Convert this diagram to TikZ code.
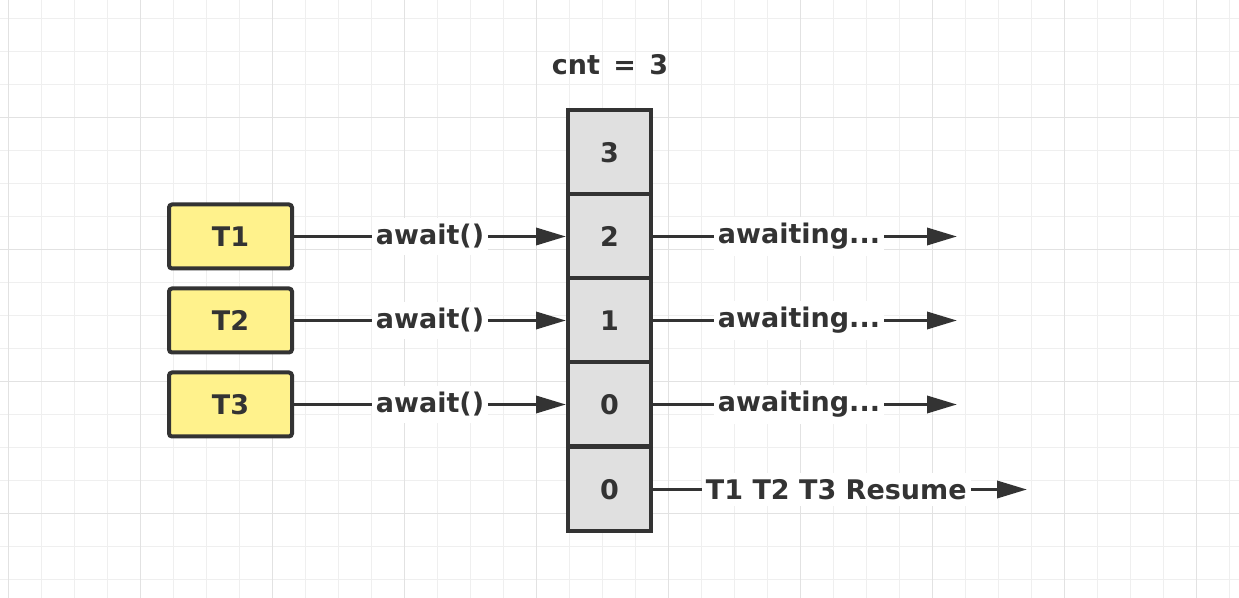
\documentclass[tikz,border=0pt]{standalone}
\usepackage{fontspec}
\setmainfont{DejaVu Sans}
\usetikzlibrary{arrows.meta}
\definecolor{ink}{HTML}{333333}
\definecolor{tyellow}{HTML}{FFF28C}
\definecolor{cellgray}{HTML}{E0E0E0}
\definecolor{gridminor}{HTML}{EFEFEF}
\definecolor{gridmajor}{HTML}{E2E2E2}
\begin{document}
\begin{tikzpicture}[x=0.5pt,y=-0.5pt,
  every node/.style={font=\fontsize{13.5}{16}\selectfont\bfseries,text=ink},
  tbox/.style={draw=ink,line width=2pt,fill=tyellow,rounded corners=1.5pt,minimum width=61.5pt,minimum height=32pt},
  cell/.style={draw=ink,line width=2pt,fill=cellgray,minimum width=41.5pt,minimum height=42pt},
  lbl/.style={fill=white,inner xsep=2pt,inner ysep=3pt},
  arr/.style={draw=ink,line width=1.75pt,-{Triangle[length=15pt,width=8.5pt]}}]
\useasboundingbox (0,0) rectangle (1239,598);
\fill[white] (0,0) rectangle (1239,598);
\foreach \x in {8,41,...,1229} \draw[gridminor,line width=0.5pt] (\x,0) -- (\x,598);
\foreach \y in {19,52,...,580} \draw[gridminor,line width=0.5pt] (0,\y) -- (1239,\y);
\foreach \x in {8,140,...,1196} \draw[gridmajor,line width=0.5pt] (\x,0) -- (\x,598);
\foreach \y in {118,250,...,514} \draw[gridmajor,line width=0.5pt] (0,\y) -- (1239,\y);

\node (cnt) at (610,65) {cnt\hspace{2pt} = \hspace{2pt}3};

\node[tbox] (t1) at (230.5,236.5) {T1};
\node[tbox] (t2) at (230.5,320.5) {T2};
\node[tbox] (t3) at (230.5,404.5) {T3};

\node[cell] (c3) at (609.5,152.5) {3};
\node[cell] (c2) at (609.5,236.5) {2};
\node[cell] (c1) at (609.5,320.5) {1};
\node[cell] (c0) at (609.5,404.5) {0};
\node[cell] (cz) at (609.5,489.5) {0};

\coordinate (e2) at (957,236.5);
\coordinate (e1) at (957,320.5);
\coordinate (e0) at (957,404.5);
\coordinate (ez) at (1027,489.5);

\draw[arr] (t1) -- node[lbl] {await()} (c2);
\draw[arr] (t2) -- node[lbl] {await()} (c1);
\draw[arr] (t3) -- node[lbl] {await()} (c0);
\draw[arr] (c2) -- node[lbl,pos=0.48] {awaiting...} (e2);
\draw[arr] (c1) -- node[lbl,pos=0.48] {awaiting...} (e1);
\draw[arr] (c0) -- node[lbl,pos=0.48] {awaiting...} (e0);
\draw[arr] (cz) -- node[lbl,pos=0.49] {T1 T2 T3 Resume} (ez);
\end{tikzpicture}
\end{document}
